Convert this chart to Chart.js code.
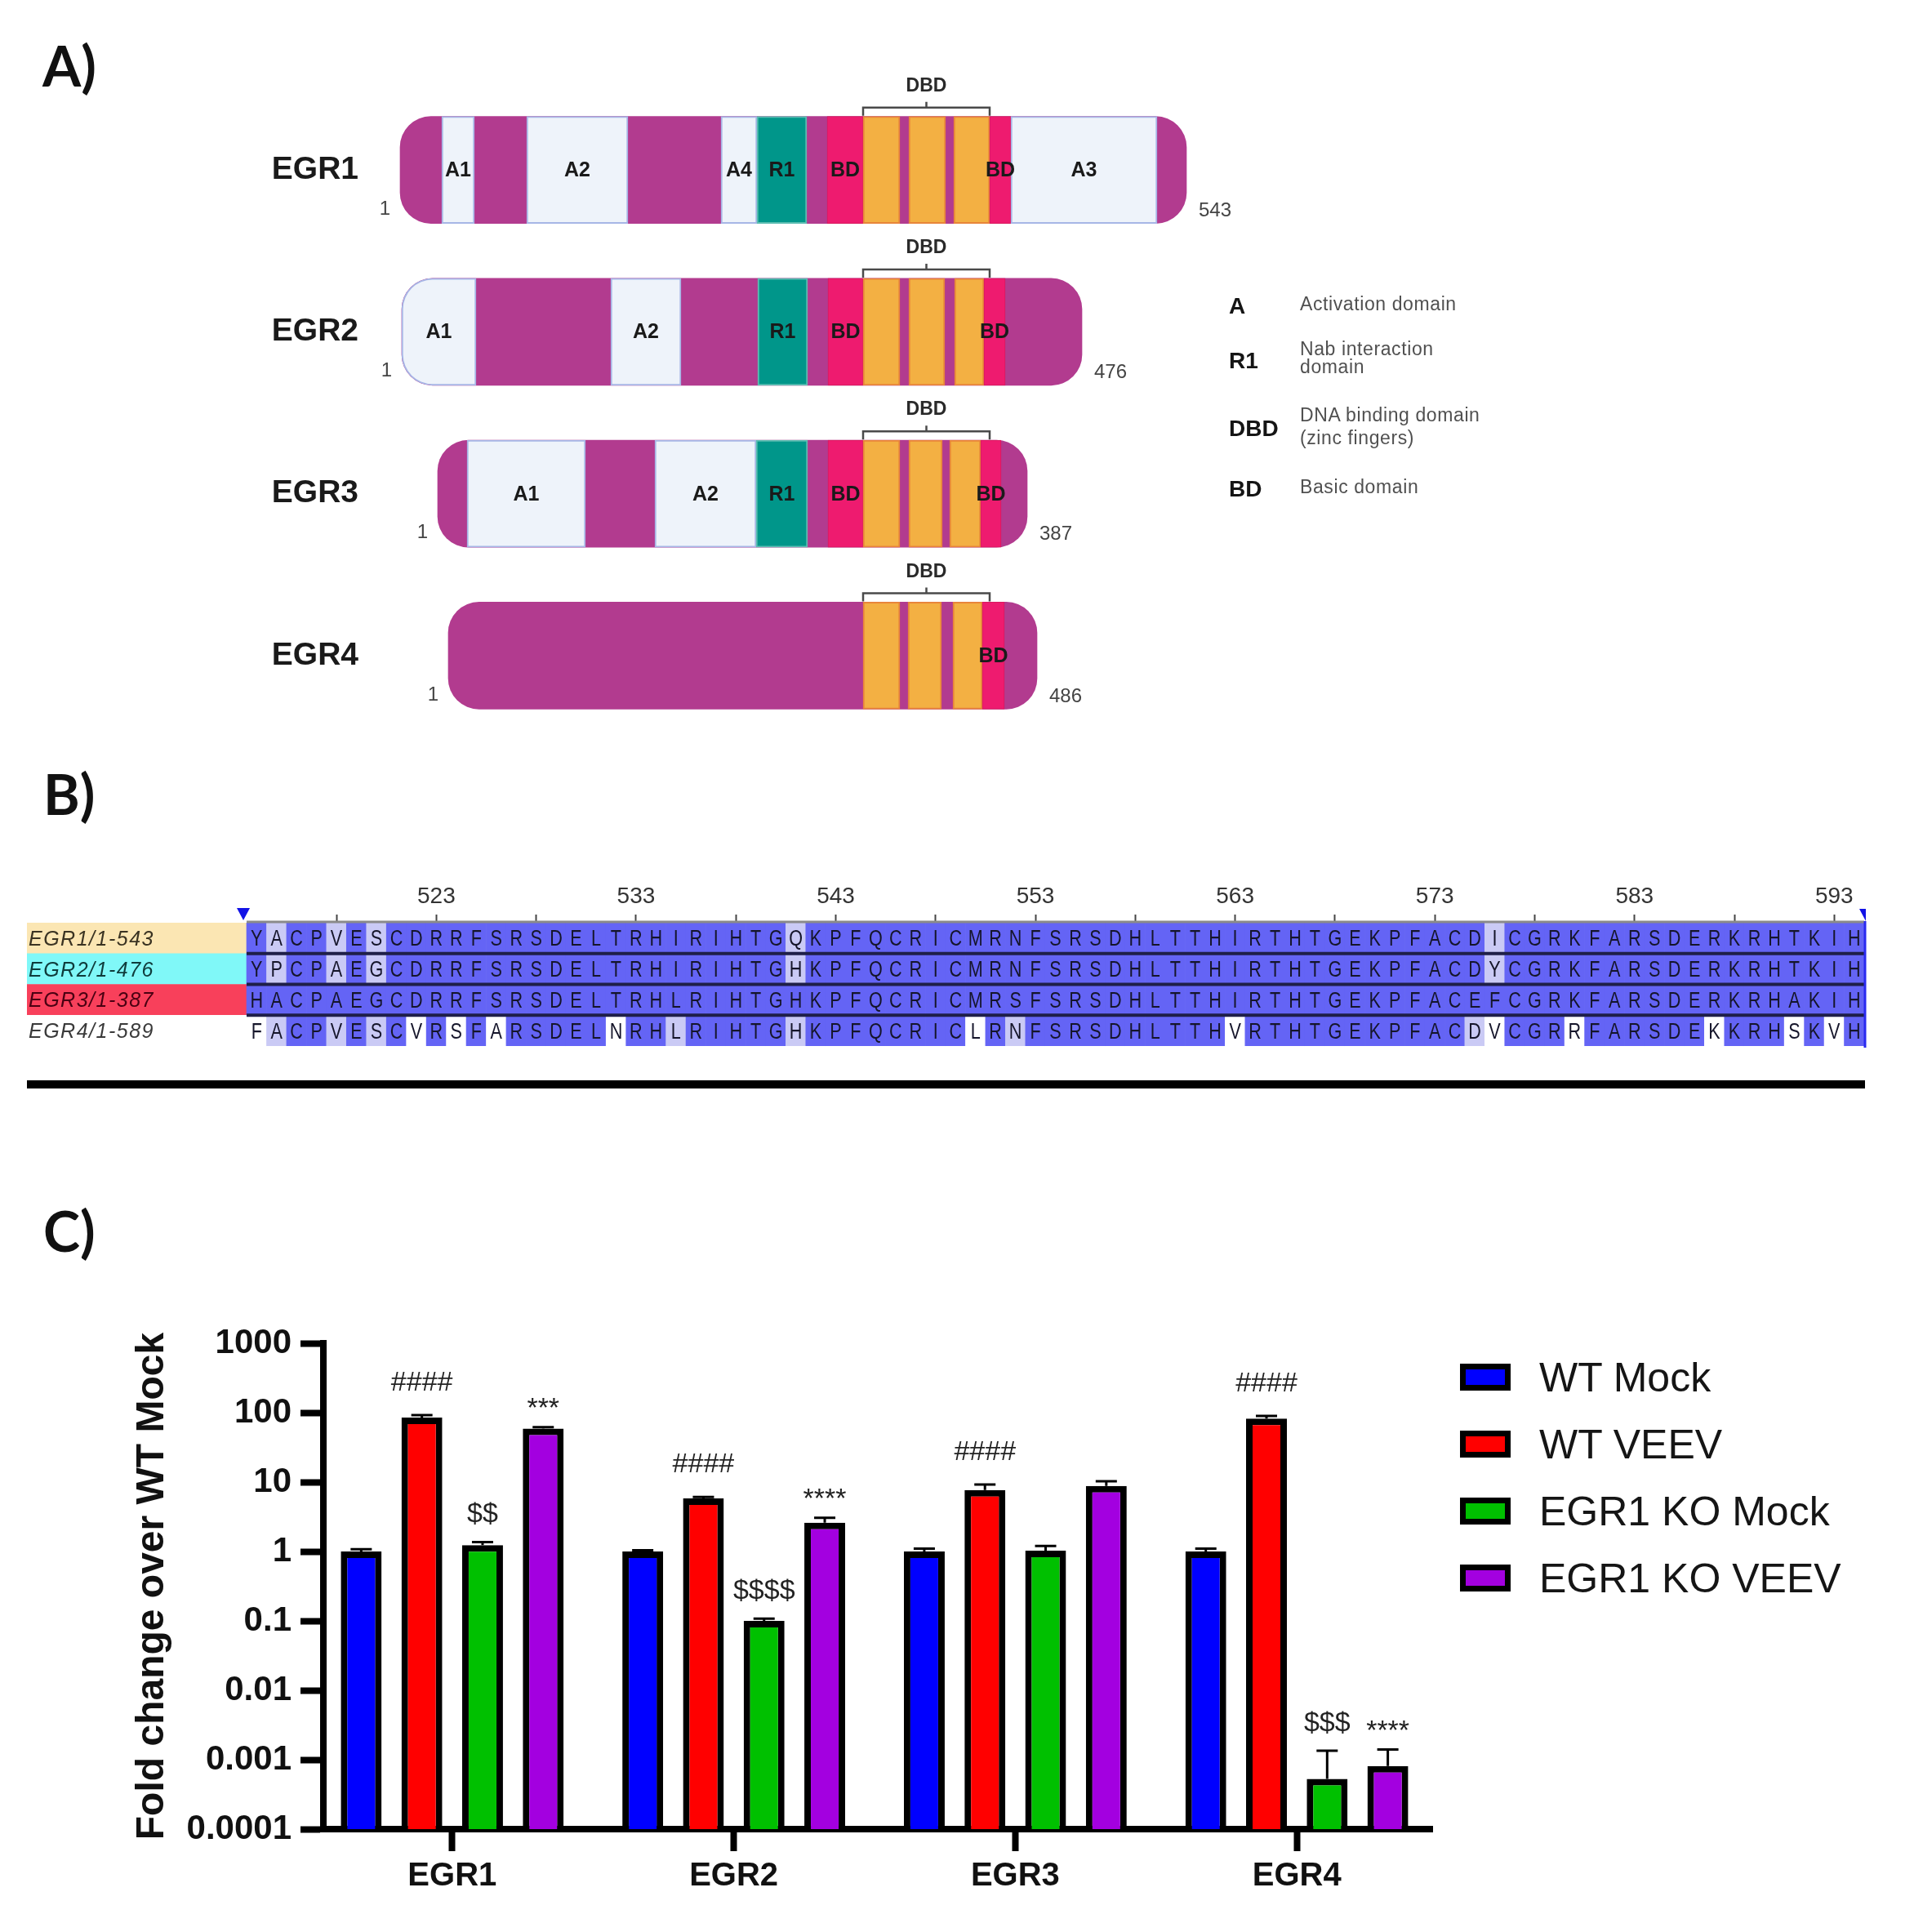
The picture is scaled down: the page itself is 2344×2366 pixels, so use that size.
<!DOCTYPE html>
<html>
<head>
<meta charset="utf-8">
<script src="https://cdn.jsdelivr.net/npm/chart.js@4.4.1/dist/chart.umd.min.js"></script>
<style>
  html, body { margin: 0; padding: 0; background: #ffffff; }
  #page { position: relative; width: 2344px; height: 2366px; overflow: hidden; background: #ffffff;
          font-family: 'Liberation Sans', Arial, sans-serif; }
  #page canvas { position: absolute; left: 0; }
  .t { position: absolute; white-space: nowrap; }
</style>
</head>
<body>
<div id="page">
  <canvas id="cA" width="2344" height="940" style="top:0px"></canvas>
  <canvas id="cB" width="2344" height="211" style="top:1080px"></canvas>
  <canvas id="cC" width="2344" height="806" style="top:1560px"></canvas>
</div>
<script>
// ================= DATA =================
// ---- Panel A : domain maps (diagram units) ----
const proteinNames   = ['EGR1', 'EGR2', 'EGR3', 'EGR4'];
const proteinLengths = ['543', '476', '387', '486'];
const proteinSpans   = [[490, 1453], [492, 1325], [536, 1258], [549, 1270]];
// [kind, start, end, label]  kind: A = activation, R = Nab interaction, B = basic, Z = zinc finger
const egr1Domains = [['A', 541, 581, 'A1'], ['A', 645, 769, 'A2'], ['A', 883, 927, 'A4'], ['R', 927, 988, 'R1'],
                     ['B', 1013, 1057, 'BD'], ['Z', 1057, 1102, ''], ['Z', 1113, 1158, ''], ['Z', 1168, 1212, ''],
                     ['B', 1212, 1238, 'BD'], ['A', 1238, 1417, 'A3']];
const egr2Domains = [['A', 492, 583, 'A1'], ['A', 748, 834, 'A2'], ['R', 928, 989, 'R1'], ['B', 1014, 1057, 'BD'],
                     ['Z', 1057, 1102, ''], ['Z', 1113, 1157, ''], ['Z', 1169, 1205, ''], ['B', 1205, 1231, 'BD']];
const egr3Domains = [['A', 572, 717, 'A1'], ['A', 802, 926, 'A2'], ['R', 926, 989, 'R1'], ['B', 1014, 1057, 'BD'],
                     ['Z', 1057, 1102, ''], ['Z', 1113, 1154, ''], ['Z', 1163, 1201, ''], ['B', 1201, 1226, 'BD']];
const egr4Domains = [['Z', 1057, 1102, ''], ['Z', 1112, 1153, ''], ['Z', 1167, 1203, ''], ['B', 1203, 1230, 'BD']];
const dbdSpans = [[1057, 1212], [1057, 1212], [1057, 1212], [1057, 1212]];
const legendKeys  = ['A', 'R1', 'DBD', 'BD'];
const legendDescs = [['Activation domain'], ['Nab interaction', 'domain'], ['DNA binding domain', '(zinc fingers)'], ['Basic domain']];

// ---- Panel B : alignment ----
const alignNames = ['EGR1/1-543', 'EGR2/1-476', 'EGR3/1-387', 'EGR4/1-589'];
const alignSeqs = [
  'YACPVESCDRRFSRSDELTRHIRIHTGQKPFQCRICMRNFSRSDHLTTHIRTHTGEKPFACDICGRKFARSDERKRHTKIH',
  'YPCPAEGCDRRFSRSDELTRHIRIHTGHKPFQCRICMRNFSRSDHLTTHIRTHTGEKPFACDYCGRKFARSDERKRHTKIH',
  'HACPAEGCDRRFSRSDELTRHLRIHTGHKPFQCRICMRSFSRSDHLTTHIRTHTGEKPFACEFCGRKFARSDERKRHAKIH',
  'FACPVESCVRSFARSDELNRHLRIHTGHKPFQCRICLRNFSRSDHLTTHVRTHTGEKPFACDVCGRRFARSDEKKRHSKVH'
];
// D = dark (identical), L = light (partly conserved), W = white
const alignShades = [
  'DLDDLDLDDD' + 'DDDDDDDDDD' + 'DDDDDDDLDD' + 'DDDDDDDDDD' + 'DDDDDDDDDD' + 'DDDDDDDDDD' + 'DDLDDDDDDD' + 'DDDDDDDDDD' + 'D',
  'DLDDLDLDDD' + 'DDDDDDDDDD' + 'DDDDDDDLDD' + 'DDDDDDDDDD' + 'DDDDDDDDDD' + 'DDDDDDDDDD' + 'DDLDDDDDDD' + 'DDDDDDDDDD' + 'D',
  'DDDDDDDDDD' + 'DDDDDDDDDD' + 'DDDDDDDDDD' + 'DDDDDDDDDD' + 'DDDDDDDDDD' + 'DDDDDDDDDD' + 'DDDDDDDDDD' + 'DDDDDDDDDD' + 'D',
  'WLDDLDLDWD' + 'WDWDDDDDWD' + 'DLDDDDDLDD' + 'DDDDDDWDLD' + 'DDDDDDDDDW' + 'DDDDDDDDDD' + 'DLWDDDWDDD' + 'DDDWDDDWDW' + 'D'
];
const firstColumnNumber = 514;
const rulerLabels = ['523', '533', '543', '553', '563', '573', '583', '593'];

// ---- Panel C : qPCR fold change ----
const genes = ['EGR1', 'EGR2', 'EGR3', 'EGR4'];
const seriesNames = ['WT Mock', 'WT VEEV', 'EGR1 KO Mock', 'EGR1 KO VEEV'];
const wtMock = [1.0, 1.0, 1.0, 1.0];
const wtVeev = [85, 5.8, 7.7, 82];
const koMock = [1.23, 0.1, 1.03, 0.00053];
const koVeev = [59, 2.6, 8.8, 0.00081];
// upper end of the error bars
const wtMockErr = [1.08, 1.04, 1.1, 1.1];
const wtVeevErr = [92, 6.1, 9.2, 90];
const koMockErr = [1.37, 0.108, 1.2, 0.00135];
const koVeevErr = [62, 3.05, 10.3, 0.0014];
// significance marks
const wtMockSig = ['', '', '', ''];
const wtVeevSig = ['####', '####', '####', '####'];
const koMockSig = ['$$', '$$$$', '', '$$$'];
const koVeevSig = ['***', '****', '', '****'];
const yTickValues = [1000, 100, 10, 1, 0.1, 0.01, 0.001, 0.0001];
const yTickLabels = ['1000', '100', '10', '1', '0.1', '0.01', '0.001', '0.0001'];

// ================= STYLE =================
const FONT = "'Liberation Sans', Arial, sans-serif";
Chart.defaults.font.family = FONT;
Chart.defaults.animation = false;
const page = document.getElementById('page');

function addText(txt, left, cy, size, style) {
  const d = document.createElement('div');
  d.className = 't';
  d.textContent = txt;
  d.style.left = left + 'px';
  d.style.top = (cy - size * 0.6) + 'px';
  d.style.fontSize = size + 'px';
  d.style.lineHeight = (size * 1.2) + 'px';
  Object.assign(d.style, style || {});
  page.appendChild(d);
  return d;
}

// panel labels
const panelLabelStyle = { fontFamily: "Lato, 'Liberation Sans', sans-serif", fontWeight: '700', color: '#111' };
addText('A)', 52, 80, 68, panelLabelStyle);
addText('B)', 53, 972, 68, panelLabelStyle);
addText('C)', 53, 1507, 68, panelLabelStyle);

// ================= PANEL A =================
const domainStyle = {
  A: { bg: '#EEF3FA', border: '#A7B6E6', width: 2 },
  R: { bg: '#00968A', border: '#5DBDB2', width: 2 },
  B: { bg: '#EE1B6F', border: '#D9195F', width: 1 },
  Z: { bg: '#F3B043', border: '#E8853A', width: 2 }
};
const backboneColor = '#B23B8F';
const END_RADIUS = 38;
const BAR_A = 131;
const domainPoints = [];
[egr1Domains, egr2Domains, egr3Domains, egr4Domains].forEach((list, r) => {
  list.forEach(d => domainPoints.push({
    y: proteinNames[r], x: [d[1], d[2]], kind: d[0], text: d[3],
    roundL: d[1] === proteinSpans[r][0], roundR: d[2] === proteinSpans[r][1]
  }));
});

const panelAPlugin = {
  id: 'panelA',
  afterDatasetsDraw(chart) {
    const ctx = chart.ctx, xs = chart.scales.x, ys = chart.scales.y;
    const half = BAR_A / 2;
    ctx.save();
    ctx.textAlign = 'center';
    ctx.textBaseline = 'middle';
    ctx.font = 'bold 25px ' + FONT;
    ctx.fillStyle = '#1a1a1a';
    domainPoints.forEach(p => {
      if (!p.text) return;
      const cy = ys.getPixelForValue(proteinNames.indexOf(p.y));
      ctx.fillText(p.text, xs.getPixelForValue((p.x[0] + p.x[1]) / 2), cy + 1);
    });
    proteinNames.forEach((n, r) => {
      const cy = ys.getPixelForValue(r), top = cy - half;
      const x1 = xs.getPixelForValue(dbdSpans[r][0]), x2 = xs.getPixelForValue(dbdSpans[r][1]);
      const xm = (x1 + x2) / 2;
      ctx.strokeStyle = '#4a4a4a';
      ctx.lineWidth = 2.5;
      ctx.beginPath();
      ctx.moveTo(x1, top - 1); ctx.lineTo(x1, top - 11); ctx.lineTo(x2, top - 11); ctx.lineTo(x2, top - 1);
      ctx.moveTo(xm, top - 11); ctx.lineTo(xm, top - 18);
      ctx.stroke();
      ctx.textAlign = 'center';
      ctx.font = 'bold 23px ' + FONT;
      ctx.fillStyle = '#2a2a2a';
      ctx.fillText('DBD', xm, top - 37);
      ctx.font = '24px ' + FONT;
      ctx.fillStyle = '#444';
      ctx.textAlign = 'right';
      ctx.fillText('1', xs.getPixelForValue(proteinSpans[r][0]) - 12, cy + 48);
      ctx.textAlign = 'left';
      ctx.fillText(proteinLengths[r], xs.getPixelForValue(proteinSpans[r][1]) + 15, cy + 50);
    });
    ctx.restore();
  }
};

new Chart(document.getElementById('cA'), {
  type: 'bar',
  data: {
    labels: proteinNames,
    datasets: [
      {
        data: proteinNames.map((n, r) => ({ y: n, x: proteinSpans[r] })),
        backgroundColor: backboneColor, borderWidth: 0, borderSkipped: false,
        borderRadius: END_RADIUS, grouped: false, barThickness: BAR_A, order: 2
      },
      {
        data: domainPoints,
        backgroundColor: c => c.raw ? domainStyle[c.raw.kind].bg : '#fff',
        borderColor: c => c.raw ? domainStyle[c.raw.kind].border : '#fff',
        borderWidth: c => c.raw ? domainStyle[c.raw.kind].width : 0,
        borderSkipped: false,
        borderRadius: c => {
          const l = c.raw && c.raw.roundL ? END_RADIUS : 0, rr = c.raw && c.raw.roundR ? END_RADIUS : 0;
          return { topLeft: l, bottomLeft: l, topRight: rr, bottomRight: rr };
        },
        grouped: false, barThickness: BAR_A, order: 1
      }
    ]
  },
  options: {
    indexAxis: 'y', responsive: false, animation: false, devicePixelRatio: 1,
    layout: { padding: { top: 109, bottom: 38, left: 0, right: 0 } },
    plugins: { legend: { display: false }, tooltip: { enabled: false } },
    scales: {
      x: { type: 'linear', display: false, min: 450, max: 2344 },
      y: {
        type: 'category',
        grid: { display: false, drawTicks: false }, border: { display: false },
        ticks: { font: { size: 39, weight: 'bold' }, color: '#1a1a1a', padding: 11 },
        afterFit: s => { s.width = 450; }
      }
    }
  },
  plugins: [panelAPlugin]
});

// panel A legend
const keyCY = [375, 442, 525, 599];
const descCY = [[373], [428, 450], [509, 537], [597]];
legendKeys.forEach((k, i) => {
  addText(k, 1505, keyCY[i], 28, { fontWeight: 'bold', color: '#151515' });
  legendDescs[i].forEach((line, j) => addText(line, 1592, descCY[i][j], 23, { color: '#505050', letterSpacing: '0.6px' }));
});

// ================= PANEL B =================
const alignBand = ['#FBE6B3', '#80F8F8', '#F8405B', '#FFFFFF'];
const alignTextColor = ['#3a3322', '#0f3b3b', '#4a0012', '#3a3a3a'];
const shadeColors = { D: '#6464F5', L: '#CACAF5', W: '#FFFFFF' };
const cellPoints = [];
alignSeqs.forEach((seq, r) => {
  for (let c = 0; c < seq.length; c++) {
    cellPoints.push({ y: alignNames[r], x: [c, c + 1], res: seq[c], shade: alignShades[r][c] });
  }
});
const nCols = alignSeqs[0].length;
const rulerTicks = [];
for (let n = firstColumnNumber + 4; n < firstColumnNumber + nCols; n += 5) {
  rulerTicks.push({ value: n - firstColumnNumber + 0.5, label: rulerLabels.includes(String(n)) ? String(n) : '' });
}

const panelBPlugin = {
  id: 'panelB',
  afterDatasetsDraw(chart) {
    const ctx = chart.ctx, xs = chart.scales.x, ys = chart.scales.y, area = chart.chartArea;
    const pitch = (area.bottom - area.top) / alignNames.length;
    const xL = xs.getPixelForValue(0), xR = xs.getPixelForValue(nCols);
    ctx.save();
    // residues (slightly condensed letters)
    ctx.font = '27px ' + FONT;
    ctx.fillStyle = '#15152a';
    ctx.textAlign = 'center';
    ctx.textBaseline = 'middle';
    chart.getDatasetMeta(1).data.forEach((el, i) => {
      ctx.save();
      ctx.translate((el.x + el.base) / 2, el.y + 2);
      ctx.scale(0.8, 1);
      ctx.fillText(cellPoints[i].res, 0, 0);
      ctx.restore();
    });
    // row separators
    ctx.strokeStyle = '#1f1f48';
    ctx.lineWidth = 4;
    for (let r = 0; r < 3; r++) {
      const y = ys.getPixelForValue(r) + pitch / 2;
      ctx.beginPath(); ctx.moveTo(xL, y); ctx.lineTo(xR, y); ctx.stroke();
    }
    // names
    ctx.font = 'italic 25px ' + FONT;
    ctx.textAlign = 'left';
    try { ctx.letterSpacing = '1.5px'; } catch (e) {}
    alignNames.forEach((n, r) => {
      ctx.fillStyle = alignTextColor[r];
      ctx.fillText(n, xs.getPixelForValue(-11) + 2, ys.getPixelForValue(r) + 2);
    });
    try { ctx.letterSpacing = '0px'; } catch (e) {}
    // ruler line
    ctx.strokeStyle = '#8a8a8a';
    ctx.lineWidth = 3;
    ctx.beginPath(); ctx.moveTo(xL, area.top - 1); ctx.lineTo(xR, area.top - 1); ctx.stroke();
    // selection markers
    ctx.fillStyle = '#1212e6';
    ctx.beginPath();
    ctx.moveTo(xL - 12, area.top - 18); ctx.lineTo(xL + 4, area.top - 18); ctx.lineTo(xL - 4, area.top - 3);
    ctx.closePath(); ctx.fill();
    ctx.beginPath();
    ctx.moveTo(xR - 6, area.top - 17); ctx.lineTo(xR + 2, area.top - 17); ctx.lineTo(xR + 2, area.top - 2);
    ctx.closePath(); ctx.fill();
    ctx.strokeStyle = '#2a2af0';
    ctx.lineWidth = 3;
    ctx.beginPath(); ctx.moveTo(xR + 1, area.top - 2); ctx.lineTo(xR + 1, area.bottom + 2); ctx.stroke();
    ctx.restore();
  }
};

new Chart(document.getElementById('cB'), {
  type: 'bar',
  data: {
    labels: alignNames,
    datasets: [
      {
        data: alignNames.map(n => ({ y: n, x: [-11, 0] })),
        backgroundColor: alignBand, borderWidth: 0, grouped: false,
        categoryPercentage: 1, barPercentage: 1, order: 1
      },
      {
        data: cellPoints,
        backgroundColor: c => c.raw ? shadeColors[c.raw.shade] : '#fff',
        borderWidth: 0, grouped: false, categoryPercentage: 1, barPercentage: 1, order: 0
      }
    ]
  },
  options: {
    indexAxis: 'y', responsive: false, animation: false, devicePixelRatio: 1,
    layout: { padding: { left: 33, right: 61, top: 0, bottom: 10 } },
    plugins: { legend: { display: false }, tooltip: { enabled: false } },
    scales: {
      y: { type: 'category', display: false },
      x: {
        type: 'linear', position: 'top', min: -11, max: nCols,
        grid: { drawOnChartArea: false, tickLength: 10, tickWidth: 2, tickColor: '#444' },
        border: { display: false },
        afterBuildTicks: s => { s.ticks = rulerTicks.map(t => ({ value: t.value })); },
        ticks: {
          callback: v => { const t = rulerTicks.find(q => q.value === v); return t ? t.label : ''; },
          font: { size: 28 }, color: '#333', padding: 5, maxRotation: 0, autoSkip: false
        },
        afterFit: s => { s.height = 50; }
      }
    }
  },
  plugins: [panelBPlugin]
});

// separator line under panel B
const sep = document.createElement('div');
Object.assign(sep.style, { position: 'absolute', left: '33px', top: '1323px', width: '2251px', height: '10px', background: '#000' });
page.appendChild(sep);

// ================= PANEL C =================
const seriesValues = [wtMock, wtVeev, koMock, koVeev];
const seriesErrors = [wtMockErr, wtVeevErr, koMockErr, koVeevErr];
const seriesSig = [wtMockSig, wtVeevSig, koMockSig, koVeevSig];
const seriesColors = ['#0000FF', '#FF0000', '#00C000', '#A300E0'];
const sigGap = { '#': 30, '$': 24, '*': 13 };

const errorBarPlugin = {
  id: 'errorBars',
  afterDatasetsDraw(chart) {
    const ctx = chart.ctx, ys = chart.scales.y;
    ctx.save();
    chart.data.datasets.forEach((ds, k) => {
      chart.getDatasetMeta(k).data.forEach((bar, i) => {
        const top = ys.getPixelForValue(seriesErrors[k][i]);
        ctx.strokeStyle = '#000';
        ctx.lineWidth = 3;
        ctx.beginPath();
        ctx.moveTo(bar.x, bar.y); ctx.lineTo(bar.x, top);
        ctx.moveTo(bar.x - 13, top); ctx.lineTo(bar.x + 13, top);
        ctx.stroke();
        const sig = seriesSig[k][i];
        if (sig) {
          ctx.font = '34px ' + FONT;
          ctx.fillStyle = '#222';
          ctx.textAlign = 'center';
          ctx.textBaseline = 'alphabetic';
          ctx.fillText(sig, bar.x, top - sigGap[sig[0]]);
        }
      });
    });
    ctx.restore();
  }
};

const chartC = new Chart(document.getElementById('cC'), {
  type: 'bar',
  data: {
    datasets: seriesNames.map((name, k) => ({
      label: name,
      data: genes.map((g, i) => ({ x: i, y: seriesValues[k][i] })),
      backgroundColor: seriesColors[k],
      borderColor: '#000',
      borderWidth: 8,
      categoryPercentage: 0.862,
      barPercentage: 0.673
    }))
  },
  options: {
    responsive: false, animation: false, devicePixelRatio: 1,
    layout: { padding: { left: 0, top: 85, right: 590, bottom: 0 } },
    plugins: { legend: { display: false }, tooltip: { enabled: false } },
    scales: {
      x: {
        type: 'linear', min: -0.4577, max: 3.481, offset: false,
        grid: { offset: false, drawOnChartArea: false, drawTicks: true, tickLength: 27, tickWidth: 8, tickColor: '#000' },
        border: { display: true, color: '#000', width: 8 },
        afterBuildTicks: s => { s.ticks = genes.map((g, i) => ({ value: i })); },
        ticks: { callback: v => genes[v], font: { size: 40, weight: 'bold' }, color: '#111', padding: 7, maxRotation: 0, autoSkip: false },
        afterFit: s => { s.height = 126; }
      },
      y: {
        type: 'logarithmic', min: 0.0001, max: 1000,
        grid: { drawOnChartArea: false, drawTicks: true, tickLength: 28, tickWidth: 8, tickColor: '#000' },
        border: { display: true, color: '#000', width: 8 },
        afterBuildTicks: s => { s.ticks = yTickValues.map(v => ({ value: v })); },
        ticks: {
          callback: v => yTickLabels[yTickValues.indexOf(v)],
          font: { size: 42, weight: 'bold' }, color: '#111', padding: 11, autoSkip: false
        },
        title: { display: true, text: 'Fold change over WT Mock', font: { size: 48, weight: 'bold' }, color: '#111', padding: { top: 158, bottom: 0 } },
        afterFit: s => { s.width = 396; }
      }
    }
  },
  plugins: [errorBarPlugin]
});

// panel C legend built from the chart's datasets
chartC.data.datasets.forEach((ds, k) => {
  const box = document.createElement('div');
  Object.assign(box.style, {
    position: 'absolute', left: '1788px', top: (1670 + 82 * k) + 'px', width: '62px', height: '33px',
    boxSizing: 'border-box', border: '7px solid #000', background: ds.backgroundColor
  });
  page.appendChild(box);
  addText(ds.label, 1885, 1687 + 82 * k, 50, { color: '#151515' });
});
</script>
</body>
</html>
